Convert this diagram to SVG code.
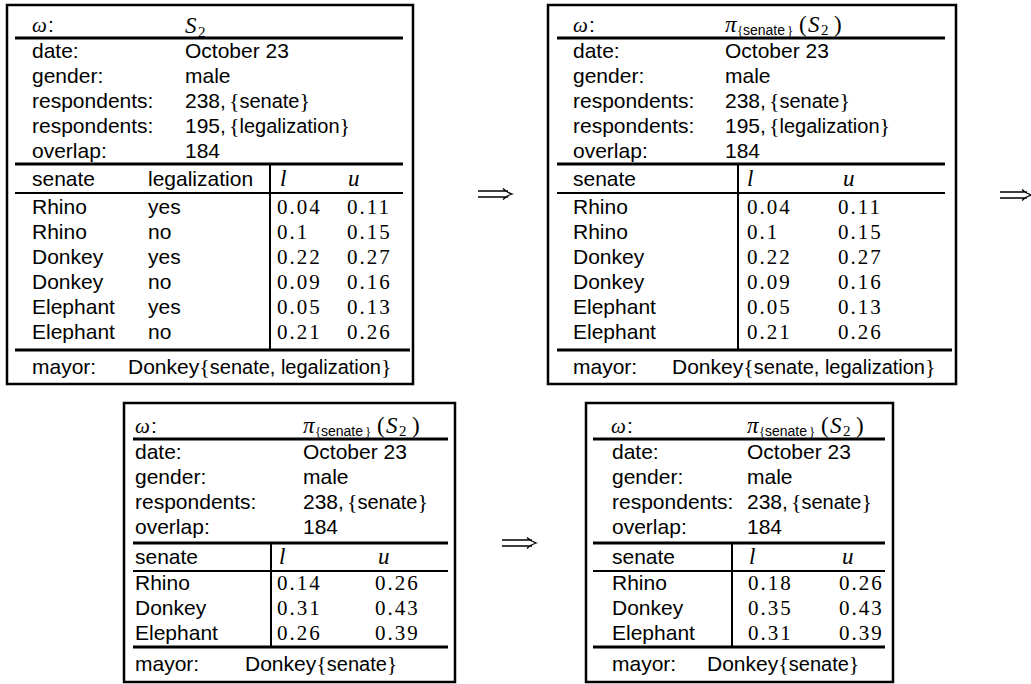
<svg xmlns="http://www.w3.org/2000/svg" width="1031" height="684" viewBox="0 0 1031 684">
<style>
.bx{fill:none;stroke:#000;stroke-width:2.5}
.r{stroke:#000;stroke-width:3}
.r2{stroke:#000;stroke-width:2}
.v{stroke:#000;stroke-width:2}
text{fill:#000}
.t{font-family:"Liberation Sans",Arial,sans-serif;font-size:21px}
.n{font-family:"Liberation Serif","Times New Roman",serif;font-size:21px;letter-spacing:2px}
.m{font-family:"Liberation Serif","Times New Roman",serif;font-style:italic;font-size:23px}
.w{font-family:"Liberation Serif","Times New Roman",serif;font-style:italic;font-size:21px}
.br{font-family:"Liberation Serif","Times New Roman",serif;font-style:normal;font-size:22px}
.ss{font-family:"Liberation Sans",Arial,sans-serif;font-style:normal;font-size:20px}
.sb{font-family:"Liberation Serif","Times New Roman",serif;font-style:normal;font-size:15px}
.sbb{font-family:"Liberation Serif","Times New Roman",serif;font-style:normal;font-size:13px}
.sbs{font-family:"Liberation Sans",Arial,sans-serif;font-style:normal;font-size:14px}
.up{font-style:normal}
.arr{fill:none;stroke:#000;stroke-width:1.3}
</style>
<rect width="1031" height="684" fill="#fff"/>

<g id="table1">
<rect class="bx" x="7" y="5" width="406" height="379"/>
<line class="r" x1="15" y1="38" x2="403" y2="38"/>
<line class="r" x1="15" y1="164" x2="403" y2="164"/>
<line class="r2" x1="15" y1="193" x2="403" y2="193"/>
<line class="r" x1="15" y1="350" x2="410" y2="350"/>
<line class="v" x1="270" y1="164" x2="270" y2="350"/>
<text class="w" x="32" y="32">ω</text><text class="t" x="48" y="32">:</text>
<text class="m" y="33"><tspan x="185">S</tspan><tspan class="sb" x="198" y="37">2</tspan></text>
<text class="t" x="32" y="58">date:</text><text class="t" x="185" y="58">October 23</text>
<text class="t" x="32" y="83">gender:</text><text class="t" x="185" y="83">male</text>
<text class="t" x="32" y="108">respondents:</text><text class="t" x="185" y="108">238,<tspan class="br" dx="3">{</tspan><tspan class="ss">senate</tspan><tspan class="br">}</tspan></text>
<text class="t" x="32" y="133">respondents:</text><text class="t" x="185" y="133">195,<tspan class="br" dx="3">{</tspan><tspan class="ss">legalization</tspan><tspan class="br">}</tspan></text>
<text class="t" x="32" y="158">overlap:</text><text class="t" x="185" y="158">184</text>
<text class="t" x="32" y="186">senate</text><text class="t" x="148" y="186">legalization</text>
<text class="m" x="280" y="186">l</text><text class="m" x="348" y="186">u</text>
<text class="t" x="32" y="214">Rhino</text><text class="t" x="148" y="214">yes</text><text class="n" x="277" y="214">0.04</text><text class="n" x="347" y="214">0.11</text>
<text class="t" x="32" y="239">Rhino</text><text class="t" x="148" y="239">no</text><text class="n" x="277" y="239">0.1</text><text class="n" x="347" y="239">0.15</text>
<text class="t" x="32" y="264">Donkey</text><text class="t" x="148" y="264">yes</text><text class="n" x="277" y="264">0.22</text><text class="n" x="347" y="264">0.27</text>
<text class="t" x="32" y="289">Donkey</text><text class="t" x="148" y="289">no</text><text class="n" x="277" y="289">0.09</text><text class="n" x="347" y="289">0.16</text>
<text class="t" x="32" y="314">Elephant</text><text class="t" x="148" y="314">yes</text><text class="n" x="277" y="314">0.05</text><text class="n" x="347" y="314">0.13</text>
<text class="t" x="32" y="339">Elephant</text><text class="t" x="148" y="339">no</text><text class="n" x="277" y="339">0.21</text><text class="n" x="347" y="339">0.26</text>
<text class="t" x="32" y="374">mayor:</text><text class="t" x="128" y="374">Donkey<tspan class="br">{</tspan><tspan class="ss">senate, legalization</tspan><tspan class="br">}</tspan></text>
</g>

<g id="table2">
<rect class="bx" x="548" y="5" width="408" height="379"/>
<line class="r" x1="557" y1="38" x2="945" y2="38"/>
<line class="r" x1="557" y1="164" x2="945" y2="164"/>
<line class="r2" x1="557" y1="193" x2="945" y2="193"/>
<line class="r" x1="557" y1="350" x2="952" y2="350"/>
<line class="v" x1="738" y1="164" x2="738" y2="350"/>
<text class="w" x="573" y="32">ω</text><text class="t" x="589" y="32">:</text>
<text class="m" y="32"><tspan x="725">π</tspan><tspan class="sbb" x="737" y="35">{</tspan><tspan class="sbs" x="743" y="35">senate</tspan><tspan class="sbb" x="787" y="35">}</tspan><tspan class="up" x="799" y="32">(</tspan><tspan x="808" y="32">S</tspan><tspan class="sb" x="821" y="35">2</tspan><tspan class="up" x="834" y="32">)</tspan></text>
<text class="t" x="573" y="58">date:</text><text class="t" x="725" y="58">October 23</text>
<text class="t" x="573" y="83">gender:</text><text class="t" x="725" y="83">male</text>
<text class="t" x="573" y="108">respondents:</text><text class="t" x="725" y="108">238,<tspan class="br" dx="3">{</tspan><tspan class="ss">senate</tspan><tspan class="br">}</tspan></text>
<text class="t" x="573" y="133">respondents:</text><text class="t" x="725" y="133">195,<tspan class="br" dx="3">{</tspan><tspan class="ss">legalization</tspan><tspan class="br">}</tspan></text>
<text class="t" x="573" y="158">overlap:</text><text class="t" x="725" y="158">184</text>
<text class="t" x="573" y="186">senate</text>
<text class="m" x="747" y="186">l</text><text class="m" x="843" y="186">u</text>
<text class="t" x="573" y="214">Rhino</text><text class="n" x="747" y="214">0.04</text><text class="n" x="838" y="214">0.11</text>
<text class="t" x="573" y="239">Rhino</text><text class="n" x="747" y="239">0.1</text><text class="n" x="838" y="239">0.15</text>
<text class="t" x="573" y="264">Donkey</text><text class="n" x="747" y="264">0.22</text><text class="n" x="838" y="264">0.27</text>
<text class="t" x="573" y="289">Donkey</text><text class="n" x="747" y="289">0.09</text><text class="n" x="838" y="289">0.16</text>
<text class="t" x="573" y="314">Elephant</text><text class="n" x="747" y="314">0.05</text><text class="n" x="838" y="314">0.13</text>
<text class="t" x="573" y="339">Elephant</text><text class="n" x="747" y="339">0.21</text><text class="n" x="838" y="339">0.26</text>
<text class="t" x="573" y="374">mayor:</text><text class="t" x="672" y="374">Donkey<tspan class="br">{</tspan><tspan class="ss">senate, legalization</tspan><tspan class="br">}</tspan></text>
</g>

<g id="table3">
<rect class="bx" x="124" y="403" width="331" height="279"/>
<line class="r" x1="133" y1="439" x2="448" y2="439"/>
<line class="r" x1="133" y1="543" x2="448" y2="543"/>
<line class="r2" x1="133" y1="571" x2="448" y2="571"/>
<line class="r" x1="133" y1="647" x2="448" y2="647"/>
<line class="v" x1="271" y1="543" x2="271" y2="647"/>
<text class="w" x="135" y="433">ω</text><text class="t" x="151" y="433">:</text>
<text class="m" y="433"><tspan x="303">π</tspan><tspan class="sbb" x="315" y="436">{</tspan><tspan class="sbs" x="321" y="436">senate</tspan><tspan class="sbb" x="365" y="436">}</tspan><tspan class="up" x="377" y="433">(</tspan><tspan x="386" y="433">S</tspan><tspan class="sb" x="399" y="436">2</tspan><tspan class="up" x="412" y="433">)</tspan></text>
<text class="t" x="135" y="459">date:</text><text class="t" x="303" y="459">October 23</text>
<text class="t" x="135" y="484">gender:</text><text class="t" x="303" y="484">male</text>
<text class="t" x="135" y="509">respondents:</text><text class="t" x="303" y="509">238,<tspan class="br" dx="3">{</tspan><tspan class="ss">senate</tspan><tspan class="br">}</tspan></text>
<text class="t" x="135" y="534">overlap:</text><text class="t" x="303" y="534">184</text>
<text class="t" x="135" y="564">senate</text>
<text class="m" x="279" y="564">l</text><text class="m" x="378" y="564">u</text>
<text class="t" x="135" y="590">Rhino</text><text class="n" x="277" y="590">0.14</text><text class="n" x="375" y="590">0.26</text>
<text class="t" x="135" y="615">Donkey</text><text class="n" x="277" y="615">0.31</text><text class="n" x="375" y="615">0.43</text>
<text class="t" x="135" y="640">Elephant</text><text class="n" x="277" y="640">0.26</text><text class="n" x="375" y="640">0.39</text>
<text class="t" x="135" y="671">mayor:</text><text class="t" x="245" y="671">Donkey<tspan class="br">{</tspan><tspan class="ss">senate</tspan><tspan class="br">}</tspan></text>
</g>

<g id="table4">
<rect class="bx" x="586" y="403" width="307" height="279"/>
<line class="r" x1="593" y1="439" x2="885" y2="439"/>
<line class="r" x1="593" y1="543" x2="885" y2="543"/>
<line class="r2" x1="593" y1="571" x2="885" y2="571"/>
<line class="r" x1="593" y1="647" x2="885" y2="647"/>
<line class="v" x1="732" y1="543" x2="732" y2="647"/>
<text class="w" x="611" y="433">ω</text><text class="t" x="627" y="433">:</text>
<text class="m" y="433"><tspan x="747">π</tspan><tspan class="sbb" x="759" y="436">{</tspan><tspan class="sbs" x="765" y="436">senate</tspan><tspan class="sbb" x="809" y="436">}</tspan><tspan class="up" x="821" y="433">(</tspan><tspan x="830" y="433">S</tspan><tspan class="sb" x="843" y="436">2</tspan><tspan class="up" x="856" y="433">)</tspan></text>
<text class="t" x="612" y="459">date:</text><text class="t" x="747" y="459">October 23</text>
<text class="t" x="612" y="484">gender:</text><text class="t" x="747" y="484">male</text>
<text class="t" x="612" y="509">respondents:</text><text class="t" x="747" y="509">238,<tspan class="br" dx="3">{</tspan><tspan class="ss">senate</tspan><tspan class="br">}</tspan></text>
<text class="t" x="612" y="534">overlap:</text><text class="t" x="747" y="534">184</text>
<text class="t" x="612" y="564">senate</text>
<text class="m" x="749" y="564">l</text><text class="m" x="842" y="564">u</text>
<text class="t" x="612" y="590">Rhino</text><text class="n" x="748" y="590">0.18</text><text class="n" x="839" y="590">0.26</text>
<text class="t" x="612" y="615">Donkey</text><text class="n" x="748" y="615">0.35</text><text class="n" x="839" y="615">0.43</text>
<text class="t" x="612" y="640">Elephant</text><text class="n" x="748" y="640">0.31</text><text class="n" x="839" y="640">0.39</text>
<text class="t" x="612" y="671">mayor:</text><text class="t" x="707" y="671">Donkey<tspan class="br">{</tspan><tspan class="ss">senate</tspan><tspan class="br">}</tspan></text>
</g>

<g id="connectors">
<path class="arr" d="M478,191 H508 M478,197 H508 M503,188.5 Q507,192.5 512,194 Q507,195.5 503,199.5"/>
<path class="arr" d="M1000,192 H1027 M1000,198 H1027 M1022,189.5 Q1026,193.5 1031,195 Q1026,196.5 1022,200.5"/>
<path class="arr" d="M502,540 H532 M502,546 H532 M527,537.5 Q531,541.5 536,543 Q531,544.5 527,548.5"/>
</g>
</svg>
